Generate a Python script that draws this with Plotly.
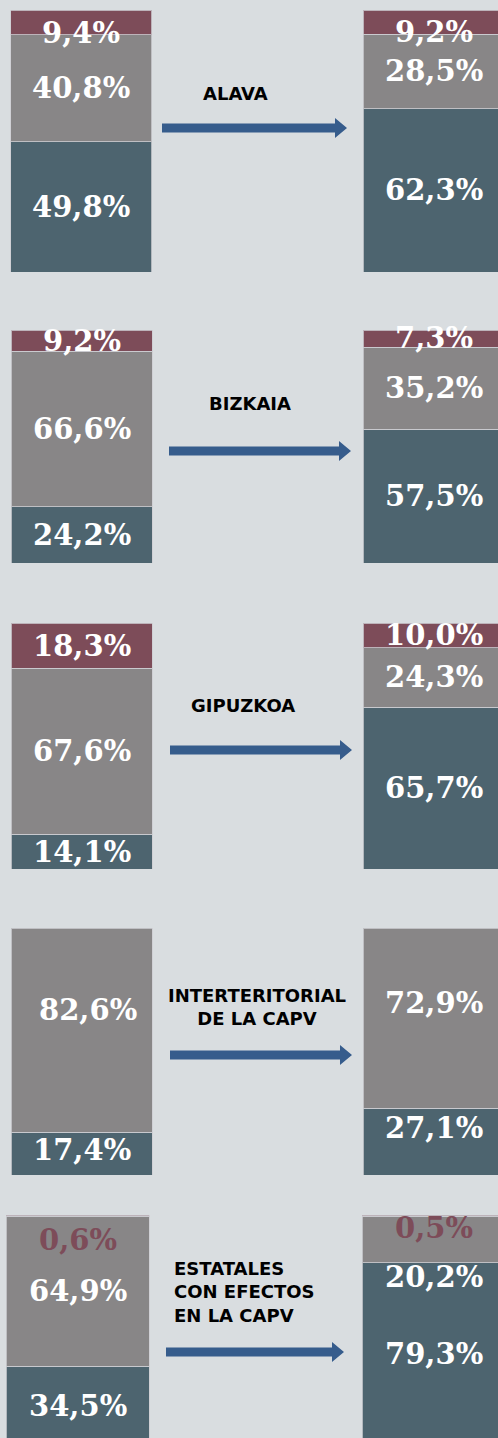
import plotly.graph_objects as go

# ---------------- data ----------------
panel_titles = ["ALAVA", "BIZKAIA", "GIPUZKOA",
                "INTERTERITORIAL<br>DE LA CAPV",
                "ESTATALES<br>CON EFECTOS<br>EN LA CAPV"]
periods = ["Antes", "Después"]
teal_vals = [[49.8, 62.3], [24.2, 57.5], [14.1, 65.7], [17.4, 27.1], [34.5, 79.3]]
gray_vals = [[40.8, 28.5], [66.6, 35.2], [67.6, 24.3], [82.6, 72.9], [64.9, 20.2]]
red_vals = [[9.4, 9.2], [9.2, 7.3], [18.3, 10.0], [None, None], [0.6, 0.5]]

# ---------------- style / layout ----------------
W, H = 498, 1438
BG = "#d9dde0"
C_TEAL = "#4d646f"
C_GRAY = "#888687"
C_RED = "#7d4c59"
C_ARROW = "#365c8c"
NUM_FONT = dict(family="DejaVu Serif", size=29, color="white", weight="bold")
TITLE_FONT = dict(family="DejaVu Sans", size=18, color="black", weight="bold")

# pixel geometry per panel: bar top, bar bottom, left centre, right centre, bar width
geom = [
    dict(top=10, bottom=272, lc=81, rc=433.5, w=141),
    dict(top=330, bottom=563, lc=81.5, rc=433.5, w=141),
    dict(top=623, bottom=869, lc=81.5, rc=433.5, w=141),
    dict(top=928, bottom=1175, lc=81.5, rc=433.5, w=141),
    dict(top=1215, bottom=1446, lc=77.5, rc=433.5, w=143),
]
# arrows: x start, x end, y (pixels)
arrows = [(162, 347, 128), (169, 351, 451), (170, 352, 750), (170, 352, 1055), (166, 344, 1352)]
# title positions (pixels) and alignment
titles_pos = [(235, 93, "center"), (250, 403, "center"), (243, 706, "center"),
              (257, 1007, "center"), (172, 1292, "left")]
# label nudges in pixels (dx, dy) keyed by (panel, period index, series)
nudge = {
    (0, 0, "red"): (0, -11), (0, 1, "red"): (0, -10),
    (3, 0, "gray"): (6, 20), (3, 1, "gray"): (0, 15),
    (3, 0, "teal"): (0, 4), (3, 1, "teal"): (0, 14),
    (4, 0, "red"): (0, -24), (4, 1, "red"): (0, -12), (4, 1, "gray"): (0, -38),
}


def fmt(v):
    return f"{v:.1f}".replace(".", ",") + "%"


fig = go.Figure()
layout = dict(width=W, height=H, margin=dict(l=0, r=0, t=0, b=0),
              paper_bgcolor=BG, plot_bgcolor=BG, barmode="stack", showlegend=False)
annotations = []
shapes = []

series = [("teal", teal_vals, C_TEAL), ("gray", gray_vals, C_GRAY), ("red", red_vals, C_RED)]

for i, g in enumerate(geom):
    ax = "" if i == 0 else str(i + 1)
    d = g["rc"] - g["lc"]
    xr = [-g["lc"] / d, (W - g["lc"]) / d]
    bw = g["w"] / d
    y_top = 1 - g["top"] / H
    y_bot = 1 - g["bottom"] / H
    if y_bot < 0:
        full = g["bottom"] - g["top"]
        vis = H - g["top"]
        yr = [100 - 100 * vis / full, 100]
        y_bot = 0
    else:
        yr = [0, 100]
    layout["xaxis" + ax] = dict(domain=[0, 1], range=xr, type="category",
                                categoryarray=periods, visible=False, fixedrange=True,
                                anchor="y" + ax)
    layout["yaxis" + ax] = dict(domain=[y_bot, y_top], range=yr, visible=False,
                                fixedrange=True, anchor="x" + ax)
    bases = [0.0, 0.0]
    for name, vals, col in series:
        v = vals[i]
        if all(x is None for x in v):
            continue
        fig.add_trace(go.Bar(
            x=periods, y=v, width=bw, marker=dict(color=col,
            line=dict(color="rgba(205,205,210,0.8)", width=1)),
            xaxis="x" + ax, yaxis="y" + ax, hoverinfo="skip"))
        for j, val in enumerate(v):
            if val is None:
                continue
            dx, dy = nudge.get((i, j, name), (0, 0))
            tcol = C_RED if (name == "red" and val < 2) else "white"
            annotations.append(dict(
                x=periods[j], y=bases[j] + val / 2, xref="x" + ax, yref="y" + ax,
                text=fmt(val), showarrow=False, xshift=dx, yshift=dy,
                font=dict(NUM_FONT, color=tcol), xanchor="center", yanchor="middle"))
            bases[j] += val

    # arrow
    x0, x1, yc = arrows[i]
    t, hh, hl = 4.5, 10, 12
    pts = [(x0, yc - t), (x1 - hl, yc - t), (x1 - hl, yc - hh), (x1, yc),
           (x1 - hl, yc + hh), (x1 - hl, yc + t), (x0, yc + t)]
    path = "M " + " L ".join(f"{px / W:.5f},{1 - py / H:.5f}" for px, py in pts) + " Z"
    shapes.append(dict(type="path", path=path, xref="paper", yref="paper",
                       fillcolor=C_ARROW, line=dict(width=0)))

    tx, ty, al = titles_pos[i]
    annotations.append(dict(x=tx / W, y=1 - ty / H, xref="paper", yref="paper",
                            text=panel_titles[i], showarrow=False, align=al,
                            xanchor="left" if al == "left" else "center",
                            yanchor="middle", font=TITLE_FONT))

layout["annotations"] = annotations
layout["shapes"] = shapes
fig.update_layout(**layout)
fig.write_html("out.html", config=dict(displayModeBar=False),
               post_script="document.body.style.margin='0';"
                           "document.body.style.background='%s';" % BG)
